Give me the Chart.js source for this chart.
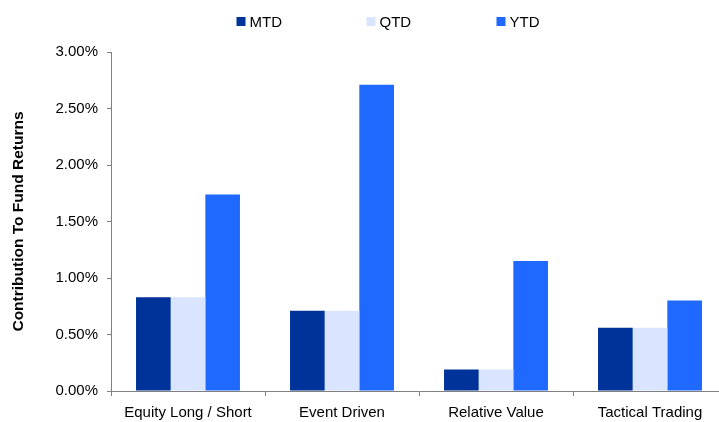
<!DOCTYPE html>
<html>
<head>
<meta charset="utf-8">
<script src="https://cdn.jsdelivr.net/npm/chart.js@4.4.0/dist/chart.umd.min.js"></script>
<style>
  html, body { margin: 0; padding: 0; overflow: hidden; background: #fff; }
</style>
</head>
<body>
<canvas id="chart" width="779" height="422"></canvas>
<script>
const categories = ['Equity Long / Short', 'Event Driven', 'Relative Value', 'Tactical Trading'];
const mtdValues = [0.83, 0.71, 0.19, 0.56];
const qtdValues = [0.83, 0.71, 0.19, 0.56];
const ytdValues = [1.74, 2.71, 1.15, 0.80];
const yTicks = [0, 0.5, 1, 1.5, 2, 2.5, 3];

const axisGrey = '#808080';
const font = { family: '"Liberation Sans", Arial, sans-serif', size: 15 };

// legend in the excel style: wide gaps, small square boxes
const topLegend = {
  id: 'topLegend',
  afterDraw(chart) {
    const {ctx} = chart;
    const sets = chart.data.datasets;
    const step = 130;
    const box = 9;
    const y = 21.5;
    ctx.save();
    ctx.font = '15px "Liberation Sans", Arial, sans-serif';
    ctx.textBaseline = 'middle';
    ctx.textAlign = 'left';
    sets.forEach((ds, i) => {
      const x = chart.width / 2 - 23 + (i - (sets.length - 1) / 2) * step;
      ctx.fillStyle = ds.backgroundColor;
      ctx.fillRect(x, y - box / 2, box, box);
      ctx.fillStyle = '#000';
      ctx.fillText(ds.label, x + box + 4, y + 1);
    });
    ctx.restore();
  }
};

const data = {
  labels: categories,
  datasets: [
    { label: 'MTD', data: mtdValues, backgroundColor: '#003399' },
    { label: 'QTD', data: qtdValues, backgroundColor: '#D9E5FF' },
    { label: 'YTD', data: ytdValues, backgroundColor: '#1F69FF' }
  ]
};

const config = {
  type: 'bar',
  data,
  options: {
    responsive: false,
    animation: false,
    devicePixelRatio: 1,
    layout: { padding: { top: 52, right: 52, bottom: 0, left: 0 } },
    datasets: {
      bar: { categoryPercentage: 0.675, barPercentage: 1.0 }
    },
    plugins: {
      legend: { display: false },
      tooltip: { enabled: false }
    },
    scales: {
      x: {
        grid: { offset: true, drawOnChartArea: false, tickLength: 5, color: axisGrey },
        border: { color: axisGrey, width: 1 },
        ticks: { color: '#000', font, padding: 8, maxRotation: 0 },
        afterFit(scale) { scale.height = 31; }
      },
      y: {
        min: 0,
        max: 3,
        afterBuildTicks(axis) { axis.ticks = yTicks.map(v => ({ value: v })); },
        grid: { drawOnChartArea: false, tickLength: 4, color: axisGrey },
        border: { color: axisGrey, width: 1 },
        ticks: {
          color: '#000',
          font,
          padding: 9,
          callback: v => v.toFixed(2) + '%'
        },
        title: {
          display: true,
          text: 'Contribution To Fund Returns',
          color: '#000',
          font: { family: font.family, size: 15.5, weight: 'bold' },
          padding: { top: 9, bottom: 0 }
        },
        afterFit(scale) { scale.width = 111; }
      }
    }
  },
  plugins: [topLegend]
};

const myChart = new Chart(document.getElementById('chart'), config);
</script>
</body>
</html>
